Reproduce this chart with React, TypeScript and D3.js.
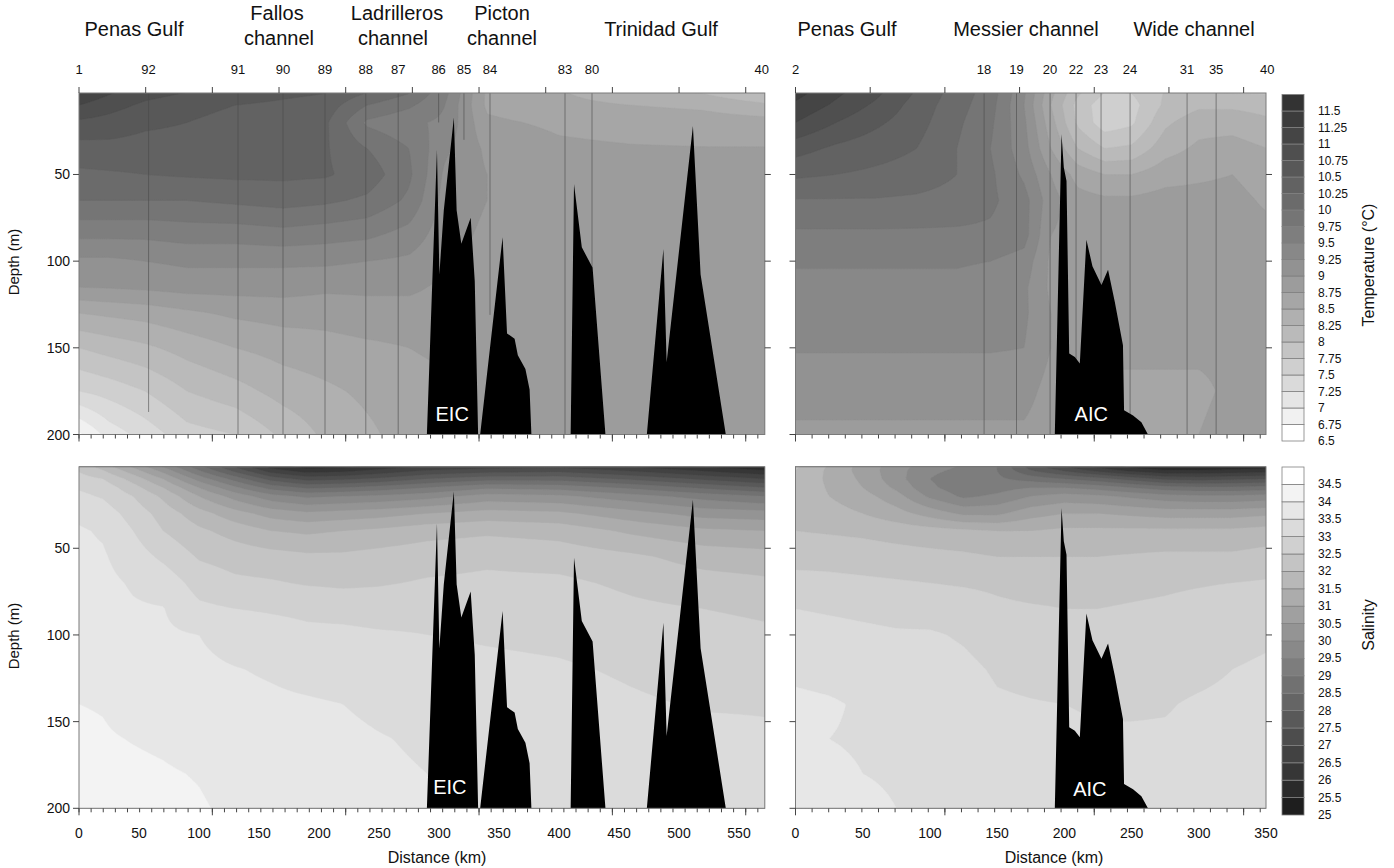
import React, { useMemo } from "react";
import * as d3 from "d3";

const FONT = "'Liberation Sans', Arial, Helvetica, sans-serif";

// ---------- Temperature (°C) ----------
// West section: Penas Gulf → Trinidad Gulf. One profile per distance (km), values at tempDepth (m).
const tempDepth = [0, 10, 20, 35, 50, 65, 85, 100, 115, 130, 150, 175, 200];
const tempWestKm = [0, 25, 55, 90, 130, 170, 205, 240, 275, 305, 340, 400, 460, 520, 572];
const tempWest = [
  [11.3, 11.0, 10.7, 10.4, 10.2, 10.0, 9.55, 9.2, 9.0, 8.5, 8.0, 7.5, 6.7],
  [11.1, 10.85, 10.65, 10.42, 10.22, 10.0, 9.55, 9.2, 9.02, 8.55, 8.1, 7.6, 7.1],
  [10.9, 10.7, 10.55, 10.4, 10.25, 10.0, 9.55, 9.25, 9.05, 8.6, 8.2, 7.75, 7.35],
  [10.8, 10.6, 10.5, 10.4, 10.28, 10.0, 9.6, 9.3, 9.1, 8.7, 8.35, 8.0, 7.65],
  [10.7, 10.5, 10.4, 10.35, 10.3, 10.05, 9.6, 9.3, 9.1, 8.8, 8.5, 8.15, 7.75],
  [10.6, 10.45, 10.35, 10.3, 10.3, 10.1, 9.65, 9.3, 9.1, 8.85, 8.6, 8.35, 8.05],
  [10.55, 10.4, 10.3, 10.28, 10.28, 10.05, 9.6, 9.3, 9.05, 8.85, 8.65, 8.45, 8.3],
  [10.35, 10.0, 9.7, 10.0, 10.15, 9.95, 9.55, 9.25, 9.05, 8.9, 8.7, 8.55, 8.45],
  [10.1, 9.8, 9.55, 9.75, 9.8, 9.7, 9.4, 9.2, 9.05, 8.9, 8.75, 8.65, 8.6],
  [9.6, 9.5, 9.45, 9.3, 9.2, 9.15, 9.1, 9.05, 8.95, 8.9, 8.8, 8.7, 8.7],
  [8.7, 8.7, 8.8, 8.95, 9.0, 9.0, 8.95, 8.92, 8.9, 8.88, 8.85, 8.85, 8.85],
  [8.5, 8.55, 8.7, 8.8, 8.88, 8.88, 8.88, 8.88, 8.88, 8.88, 8.88, 8.88, 8.88],
  [8.35, 8.5, 8.65, 8.77, 8.88, 8.88, 8.88, 8.88, 8.88, 8.88, 8.88, 8.88, 8.88],
  [8.15, 8.45, 8.62, 8.76, 8.88, 8.88, 8.88, 8.88, 8.88, 8.88, 8.88, 8.88, 8.88],
  [7.85, 8.3, 8.6, 8.76, 8.88, 8.88, 8.88, 8.88, 8.88, 8.88, 8.88, 8.88, 8.88],
];

// East section: Penas Gulf → Messier channel → Wide channel.
const tempEastKm = [0, 30, 60, 90, 120, 145, 170, 190, 210, 230, 250, 275, 300, 325, 351];
const tempEast = [
  [11.4, 11.2, 11.0, 10.6, 10.3, 9.98, 9.7, 9.52, 9.45, 9.35, 9.27, 9.1, 8.95],
  [11.1, 10.95, 10.75, 10.45, 10.25, 9.98, 9.7, 9.52, 9.45, 9.35, 9.27, 9.1, 8.95],
  [10.85, 10.7, 10.55, 10.35, 10.2, 9.98, 9.7, 9.52, 9.45, 9.35, 9.27, 9.1, 8.95],
  [10.5, 10.4, 10.35, 10.25, 10.15, 9.95, 9.7, 9.52, 9.45, 9.35, 9.27, 9.1, 8.95],
  [10.15, 10.1, 10.05, 10.0, 10.0, 9.9, 9.7, 9.52, 9.45, 9.35, 9.27, 9.1, 8.95],
  [9.9, 9.85, 9.8, 9.75, 9.8, 9.8, 9.7, 9.5, 9.42, 9.35, 9.27, 9.1, 8.95],
  [9.3, 9.25, 9.3, 9.35, 9.45, 9.6, 9.6, 9.4, 9.3, 9.3, 9.25, 9.1, 8.95],
  [8.6, 8.5, 8.6, 8.75, 9.0, 9.1, 9.0, 8.95, 8.95, 9.0, 9.0, 8.9, 8.85],
  [8.1, 7.9, 7.95, 8.25, 8.65, 8.85, 8.9, 8.88, 8.9, 8.9, 8.8, 8.7, 8.65],
  [7.8, 7.6, 7.6, 8.0, 8.5, 8.8, 8.88, 8.88, 8.9, 8.9, 8.8, 8.7, 8.65],
  [7.8, 7.65, 7.7, 8.05, 8.5, 8.8, 8.88, 8.88, 8.9, 8.9, 8.8, 8.7, 8.65],
  [8.0, 8.05, 8.2, 8.4, 8.65, 8.85, 8.88, 8.88, 8.9, 8.9, 8.8, 8.7, 8.65],
  [8.0, 8.2, 8.4, 8.55, 8.7, 8.85, 8.88, 8.88, 8.9, 8.9, 8.8, 8.7, 8.75],
  [7.9, 8.2, 8.4, 8.6, 8.75, 8.85, 8.88, 8.85, 8.9, 8.9, 8.8, 8.8, 8.85],
  [7.9, 8.15, 8.3, 8.5, 8.6, 8.7, 8.85, 8.8, 8.85, 8.9, 8.8, 8.85, 8.85],
];

// ---------- Salinity ----------
const salDepth = [0, 5, 10, 15, 20, 30, 40, 55, 70, 85, 100, 120, 140, 160, 180, 200];
const salWestKm = [0, 20, 45, 70, 100, 130, 160, 190, 220, 250, 290, 340, 400, 460, 520, 572];
const salWest = [
  [32.2, 32.45, 32.7, 32.95, 33.1, 33.4, 33.55, 33.6, 33.65, 33.7, 33.75, 33.85, 34.0, 34.1, 34.2, 34.3],
  [31.5, 32.0, 32.5, 32.8, 32.95, 33.25, 33.45, 33.55, 33.62, 33.67, 33.72, 33.82, 33.97, 34.05, 34.15, 34.25],
  [30.5, 31.2, 31.8, 32.2, 32.5, 32.8, 33.0, 33.25, 33.45, 33.55, 33.6, 33.7, 33.8, 33.98, 34.1, 34.2],
  [29.5, 30.3, 31.0, 31.5, 31.9, 32.3, 32.5, 32.9, 33.3, 33.52, 33.58, 33.65, 33.75, 33.92, 34.05, 34.15],
  [28.2, 29.0, 29.8, 30.5, 31.0, 31.7, 32.1, 32.45, 32.8, 33.1, 33.5, 33.6, 33.7, 33.8, 33.97, 34.05],
  [27.0, 27.8, 28.8, 29.6, 30.3, 31.2, 31.8, 32.3, 32.6, 33.0, 33.3, 33.52, 33.62, 33.72, 33.82, 33.9],
  [25.8, 26.7, 27.8, 28.8, 29.7, 30.8, 31.5, 32.2, 32.55, 32.95, 33.2, 33.45, 33.58, 33.68, 33.75, 33.8],
  [25.2, 26.2, 27.3, 28.4, 29.4, 30.6, 31.4, 32.1, 32.45, 32.9, 33.1, 33.35, 33.55, 33.65, 33.72, 33.78],
  [25.3, 26.3, 27.4, 28.5, 29.5, 30.7, 31.5, 32.1, 32.4, 32.85, 33.1, 33.3, 33.5, 33.58, 33.65, 33.7],
  [25.6, 26.6, 27.6, 28.7, 29.6, 30.8, 31.6, 32.2, 32.45, 32.8, 33.05, 33.2, 33.42, 33.52, 33.56, 33.6],
  [26.0, 27.0, 28.0, 29.0, 29.8, 31.0, 31.8, 32.3, 32.55, 32.85, 33.0, 33.15, 33.35, 33.45, 33.5, 33.52],
  [26.2, 27.2, 28.3, 29.4, 30.2, 31.2, 31.9, 32.4, 32.6, 32.85, 32.95, 33.1, 33.2, 33.3, 33.35, 33.4],
  [26.3, 27.3, 28.3, 29.3, 30.1, 31.1, 31.8, 32.3, 32.6, 32.8, 32.9, 33.05, 33.15, 33.25, 33.3, 33.3],
  [25.9, 26.9, 27.9, 28.9, 29.7, 30.7, 31.4, 32.1, 32.4, 32.6, 32.8, 32.95, 33.05, 33.15, 33.2, 33.25],
  [25.4, 26.4, 27.4, 28.4, 29.3, 30.3, 31.1, 31.8, 32.2, 32.5, 32.7, 32.85, 32.97, 33.1, 33.15, 33.2],
  [25.1, 26.0, 27.0, 28.0, 29.0, 30.2, 31.0, 31.7, 32.1, 32.4, 32.6, 32.8, 32.97, 33.05, 33.1, 33.15],
];

const salEastKm = [0, 25, 50, 75, 100, 125, 150, 175, 200, 225, 250, 275, 300, 325, 351];
const salEast = [
  [32.2, 32.0, 31.9, 31.85, 31.85, 31.9, 32.0, 32.3, 32.7, 33.0, 33.2, 33.4, 33.6, 33.55, 33.7, 33.85],
  [31.5, 31.4, 31.4, 31.45, 31.5, 31.7, 31.95, 32.3, 32.65, 32.95, 33.15, 33.35, 33.55, 33.5, 33.6, 33.75],
  [30.8, 30.8, 30.9, 31.0, 31.2, 31.5, 31.9, 32.25, 32.6, 32.9, 33.1, 33.3, 33.45, 33.45, 33.5, 33.6],
  [30.3, 30.2, 30.2, 30.4, 30.7, 31.2, 31.8, 32.2, 32.55, 32.85, 33.05, 33.25, 33.35, 33.4, 33.45, 33.5],
  [29.8, 29.6, 29.5, 29.6, 29.9, 30.8, 31.7, 32.15, 32.5, 32.8, 33.05, 33.2, 33.3, 33.35, 33.4, 33.45],
  [29.5, 29.4, 29.2, 29.2, 29.4, 30.4, 31.6, 32.1, 32.45, 32.75, 32.95, 33.1, 33.2, 33.25, 33.3, 33.35],
  [29.0, 29.0, 29.1, 29.3, 29.6, 30.4, 31.5, 32.0, 32.4, 32.6, 32.8, 32.95, 33.05, 33.1, 33.2, 33.3],
  [27.5, 28.0, 28.8, 29.5, 30.0, 30.8, 31.5, 32.0, 32.3, 32.55, 32.75, 32.9, 33.02, 33.1, 33.15, 33.2],
  [26.5, 27.4, 28.5, 29.5, 30.2, 31.0, 31.6, 32.0, 32.3, 32.5, 32.7, 32.85, 33.0, 33.1, 33.12, 33.15],
  [25.8, 26.8, 28.2, 29.3, 30.1, 31.0, 31.6, 32.0, 32.3, 32.5, 32.65, 32.8, 32.95, 33.05, 33.1, 33.15],
  [25.3, 26.3, 27.8, 29.0, 29.9, 30.9, 31.6, 32.05, 32.35, 32.55, 32.65, 32.8, 32.95, 33.05, 33.1, 33.15],
  [25.1, 26.0, 27.4, 28.7, 29.7, 30.8, 31.6, 32.1, 32.4, 32.6, 32.7, 32.85, 32.97, 33.05, 33.1, 33.15],
  [25.1, 26.0, 27.3, 28.6, 29.6, 30.8, 31.6, 32.1, 32.45, 32.7, 32.8, 32.9, 33.05, 33.1, 33.15, 33.2],
  [25.2, 26.1, 27.4, 28.6, 29.6, 30.8, 31.6, 32.1, 32.5, 32.8, 32.9, 33.0, 33.1, 33.15, 33.2, 33.2],
  [25.2, 26.2, 27.5, 28.7, 29.7, 30.9, 31.7, 32.2, 32.55, 32.85, 32.95, 33.05, 33.1, 33.15, 33.2, 33.2],
];

// ---------- Bottom topography (km, depth m) ----------
const sillsWest = [
  [[289.9, 200], [298.3, 35.7], [300.3, 107.7], [304, 70.7], [312.4, 17.2], [314.7, 70.7], [318.6, 90], [326.4, 75], [329.8, 111.6], [332.6, 200]],
  [[334.3, 200], [348.8, 111.6], [353, 86.2], [356.7, 141.7], [363, 144.7], [365.7, 154.3], [372, 162.2], [375.5, 174], [377, 200]],
  [[409.7, 200], [412.5, 55.5], [419, 92], [428, 103.8], [438.7, 200]],
  [[473.2, 200], [487, 93], [489.7, 158.3], [511.6, 22], [518, 107.7], [539, 200]],
];
const sillsEast = [
  [[192.9, 200], [197.9, 26.7], [199.6, 46], [201.6, 53.8], [203.6, 153.3], [207.8, 155.3], [211.5, 159], [216.4, 87.6], [220.9, 103], [227.6, 113.7], [232.5, 105], [237.5, 123.4], [243.6, 148.5], [244.4, 186], [251.1, 189], [257.3, 193], [262.2, 200]],
];

// ---------- CTD stations ----------
const stationsWest = ["1", "92", "91", "90", "89", "88", "87", "86", "85", "84", "83", "80", "40"];
const stationsWestKm = [0, 58, 132.5, 170, 205, 239, 266, 299.7, 320.8, 342.5, 405, 427.5, 569];
const stationsWestCast = [0, 187, 200, 200, 200, 200, 200, 20, 30, 131, 200, 104, 0];
const stationsEast = ["2", "18", "19", "20", "22", "23", "24", "31", "35", "40"];
const stationsEastKm = [0, 140.3, 164.4, 189.4, 208.7, 227.3, 248.9, 291.3, 312.9, 351];
const stationsEastCast = [0, 200, 200, 200, 200, 200, 200, 200, 200, 0];

// ---------- Colour scales ----------
const tempLevels = d3.range(21).map((k) => 6.5 + 0.25 * k);
const salLevels = d3.range(20).map((k) => 25 + 0.5 * k);
const greyHex = (g: number) => {
  const v = Math.round(Math.max(0, Math.min(255, g)));
  return `rgb(${v},${v},${v})`;
};
const tempColor = (k: number) => greyHex(255 - 204 * Math.pow(k / 20, 0.9));
const salColor = (k: number) => greyHex(30 + 225 * (k / 19));

const distanceTicksWest = d3.range(0, 551, 50);
const distanceTicksEast = d3.range(0, 351, 50);
const depthTicks = [50, 100, 150, 200];

// ---------- Layout ----------
const W = 1394, H = 868;
const KM_W = 571.5, KM_E = 350;
const xW = d3.scaleLinear().domain([0, 550]).range([79, 739]);
const xE = d3.scaleLinear().domain([0, 350]).range([795.5, 1266]);
const yT = d3.scaleLinear().domain([0, 200]).range([87.8, 434.5]);
const yB = d3.scaleLinear().domain([0, 200]).range([461.6, 808.3]);
const TOP_DEPTH = 3;
const NM30 = 55.56;

function bilinear(kms: number[], depths: number[], table: number[][], km: number, d: number) {
  const clamp = (v: number, a: number, b: number) => Math.max(a, Math.min(b, v));
  const i = clamp(d3.bisectRight(kms, km) - 1, 0, kms.length - 2);
  const j = clamp(d3.bisectRight(depths, d) - 1, 0, depths.length - 2);
  const tx = clamp((km - kms[i]) / (kms[i + 1] - kms[i]), 0, 1);
  const ty = clamp((d - depths[j]) / (depths[j + 1] - depths[j]), 0, 1);
  const a = table[i][j], b = table[i + 1][j], c = table[i][j + 1], e = table[i + 1][j + 1];
  return a * (1 - tx) * (1 - ty) + b * tx * (1 - ty) + c * (1 - tx) * ty + e * tx * ty;
}

function bands(
  kms: number[], depths: number[], table: number[][], kmMax: number,
  levels: number[], color: (k: number) => string,
  xs: d3.ScaleLinear<number, number>, ys: d3.ScaleLinear<number, number>
) {
  const nx = 320, ny = 220;
  const dx = kmMax / (nx - 1), dy = 200 / (ny - 1);
  const values: number[] = new Array(nx * ny);
  for (let j = 0; j < ny; j++)
    for (let i = 0; i < nx; i++) values[j * nx + i] = bilinear(kms, depths, table, i * dx, j * dy);
  const polys = d3.contours().size([nx, ny]).thresholds(levels)(values);
  const proj = d3.geoTransform({
    point(x: number, y: number) {
      (this as any).stream.point(xs((x - 0.5) * dx), ys((y - 0.5) * dy));
    },
  });
  const path = d3.geoPath(proj);
  return polys.map((p) => ({ d: path(p as any) || "", fill: color(levels.indexOf(p.value)) }));
}

function sillPath(sills: number[][][], xs: any, ys: any) {
  const line = d3.line<number[]>().x((p) => xs(p[0])).y((p) => ys(Math.min(p[1], 202)));
  return sills.map((s) => line(s) + "Z");
}

type PanelProps = {
  id: string;
  xs: d3.ScaleLinear<number, number>;
  ys: d3.ScaleLinear<number, number>;
  kmMax: number;
  bandPaths: { d: string; fill: string }[];
  base: string;
  sills: number[][][];
  current: string;
  currentAt: [number, number];
  stationKm?: number[];
  stationCast?: number[];
  topTicks: boolean;
  bottomLabels?: number[];
  leftLabels: boolean;
  minorPerMajor: number;
};

function Panel(p: PanelProps) {
  const x0 = p.xs(0), x1 = p.xs(p.kmMax);
  const y0 = p.ys(TOP_DEPTH), y1 = p.ys(200);
  const major = 111.12;
  const majors = d3.range(0, p.kmMax + 0.1, major);
  const minors = d3.range(0, p.kmMax + 0.1, major / p.minorPerMajor);
  return (
    <g>
      <defs>
        <clipPath id={p.id}>
          <rect x={x0} y={y0} width={x1 - x0} height={y1 - y0} />
        </clipPath>
      </defs>
      <g clipPath={`url(#${p.id})`}>
        <rect x={x0} y={y0} width={x1 - x0} height={y1 - y0} fill={p.base} />
        {p.bandPaths.map((b, i) => (
          <path key={i} d={b.d} fill={b.fill} stroke={b.fill} strokeWidth={0.4} />
        ))}
        {p.stationKm &&
          p.stationKm.map((k, i) =>
            p.stationCast![i] > 0 ? (
              <line key={i} x1={p.xs(k)} x2={p.xs(k)} y1={y0} y2={p.ys(p.stationCast![i])}
                stroke="#4a4a4a" strokeWidth={0.8} strokeOpacity={0.75} />
            ) : null
          )}
        {sillPath(p.sills, p.xs, p.ys).map((d, i) => (
          <path key={i} d={d} fill="#000" />
        ))}
      </g>
      <text x={p.xs(p.currentAt[0])} y={p.ys(p.currentAt[1])} fill="#fff" fontSize={20}
        textAnchor="middle" fontFamily={FONT}>{p.current}</text>
      <rect x={x0} y={y0} width={x1 - x0} height={y1 - y0} fill="none" stroke="#7a7a7a" strokeWidth={1} />
      {/* depth ticks on both sides */}
      {depthTicks.map((v) => (
        <g key={v}>
          <line x1={x0 - 6} x2={x0} y1={p.ys(v)} y2={p.ys(v)} stroke="#444" />
          {v < 200 && <line x1={x1} x2={x1 + 6} y1={p.ys(v)} y2={p.ys(v)} stroke="#444" />}
          {p.leftLabels && (
            <text x={70} y={p.ys(v) + 5} textAnchor="end" fontSize={14} fontFamily={FONT} fill="#111">{v}</text>
          )}
        </g>
      ))}
      {/* distance ticks along the bottom */}
      {minors.map((k, i) => (
        <line key={"m" + i} x1={p.xs(k)} x2={p.xs(k)} y1={y1} y2={y1 + 4} stroke="#444" />
      ))}
      {majors.map((k, i) => (
        <line key={"M" + i} x1={p.xs(k)} x2={p.xs(k)} y1={y1} y2={y1 + 7} stroke="#444" />
      ))}
      {p.bottomLabels &&
        p.bottomLabels.map((v) => (
          <text key={v} x={p.xs(v)} y={838} textAnchor="middle" fontSize={14} fontFamily={FONT} fill="#111">{v}</text>
        ))}
      {p.topTicks &&
        d3.range(0, p.kmMax, NM30).map((k, i) => (
          <line key={"t" + i} x1={p.xs(k)} x2={p.xs(k)} y1={y0} y2={y0 - 6} stroke="#444" />
        ))}
    </g>
  );
}

function ColorBar(props: {
  levels: number[]; color: (k: number) => string; top: number; boxH: number; title: string; titleY: number;
}) {
  const n = props.levels.length;
  return (
    <g fontFamily={FONT}>
      {props.levels.map((v, k) => {
        const row = n - 1 - k;
        const yTop = props.top + row * props.boxH;
        return (
          <g key={k}>
            <rect x={1282} y={yTop} width={22} height={props.boxH} fill={props.color(k)} stroke="#808080" strokeWidth={0.8} />
            <text x={1318} y={yTop + props.boxH + 4} fontSize={12} fill="#111">{String(v)}</text>
          </g>
        );
      })}
      <text transform={`translate(1374,${props.titleY}) rotate(-90)`} textAnchor="middle" fontSize={16} fill="#111">
        {props.title}
      </text>
    </g>
  );
}

export default function App() {
  const g = useMemo(() => {
    return {
      tW: bands(tempWestKm, tempDepth, tempWest, KM_W, tempLevels, tempColor, xW, yT),
      tE: bands(tempEastKm, tempDepth, tempEast, KM_E, tempLevels, tempColor, xE, yT),
      sW: bands(salWestKm, salDepth, salWest, KM_W, salLevels, salColor, xW, yB),
      sE: bands(salEastKm, salDepth, salEast, KM_E, salLevels, salColor, xE, yB),
    };
  }, []);

  const header = (text: string, x: number, y: number) => (
    <text x={x} y={y} textAnchor="middle" fontSize={20} fontFamily={FONT} fill="#111">{text}</text>
  );

  return (
    <svg width={W} height={H} style={{ position: "absolute", left: 0, top: 0, background: "#fff" }}>
      <rect width={W} height={H} fill="#fff" />
      {/* region names */}
      {header("Penas Gulf", 134, 36)}
      {header("Fallos", 277, 20)}
      {header("channel", 279, 45)}
      {header("Ladrilleros", 397, 20)}
      {header("channel", 393, 45)}
      {header("Picton", 502, 20)}
      {header("channel", 502, 45)}
      {header("Trinidad Gulf", 661, 36)}
      {header("Penas Gulf", 847, 36)}
      {header("Messier channel", 1026, 36)}
      {header("Wide channel", 1194, 36)}

      {/* station numbers */}
      {stationsWest.map((s, i) => (
        <text key={"sw" + i} x={xW(stationsWestKm[i])} y={74} textAnchor="middle" fontSize={13} fontFamily={FONT} fill="#111">{s}</text>
      ))}
      {stationsEast.map((s, i) => (
        <text key={"se" + i} x={xE(stationsEastKm[i])} y={74} textAnchor="middle" fontSize={13} fontFamily={FONT} fill="#111">{s}</text>
      ))}

      <Panel id="cTW" xs={xW} ys={yT} kmMax={KM_W} bandPaths={g.tW} base={tempColor(0)} sills={sillsWest}
        current="EIC" currentAt={[311, 192]} stationKm={stationsWestKm} stationCast={stationsWestCast}
        topTicks leftLabels minorPerMajor={11} />
      <Panel id="cTE" xs={xE} ys={yT} kmMax={KM_E} bandPaths={g.tE} base={tempColor(0)} sills={sillsEast}
        current="AIC" currentAt={[220, 192.5]} stationKm={stationsEastKm} stationCast={stationsEastCast}
        topTicks leftLabels={false} minorPerMajor={9} />
      <Panel id="cSW" xs={xW} ys={yB} kmMax={KM_W} bandPaths={g.sW} base={salColor(0)} sills={sillsWest}
        current="EIC" currentAt={[309, 192]} topTicks={false} leftLabels bottomLabels={distanceTicksWest}
        minorPerMajor={11} />
      <Panel id="cSE" xs={xE} ys={yB} kmMax={KM_E} bandPaths={g.sE} base={salColor(0)} sills={sillsEast}
        current="AIC" currentAt={[219, 193]} topTicks={false} leftLabels={false} bottomLabels={distanceTicksEast}
        minorPerMajor={9} />

      {/* axis titles */}
      <text transform="translate(19,262) rotate(-90)" textAnchor="middle" fontSize={15} fontFamily={FONT} fill="#111">Depth (m)</text>
      <text transform="translate(19,636) rotate(-90)" textAnchor="middle" fontSize={15} fontFamily={FONT} fill="#111">Depth (m)</text>
      <text x={437} y={863} textAnchor="middle" fontSize={16} fontFamily={FONT} fill="#111">Distance (km)</text>
      <text x={1054} y={863} textAnchor="middle" fontSize={16} fontFamily={FONT} fill="#111">Distance (km)</text>

      <ColorBar levels={tempLevels} color={tempColor} top={94.5} boxH={16.5} title="Temperature (°C)" titleY={265} />
      <ColorBar levels={salLevels} color={salColor} top={467} boxH={17.4} title="Salinity" titleY={625} />
    </svg>
  );
}
